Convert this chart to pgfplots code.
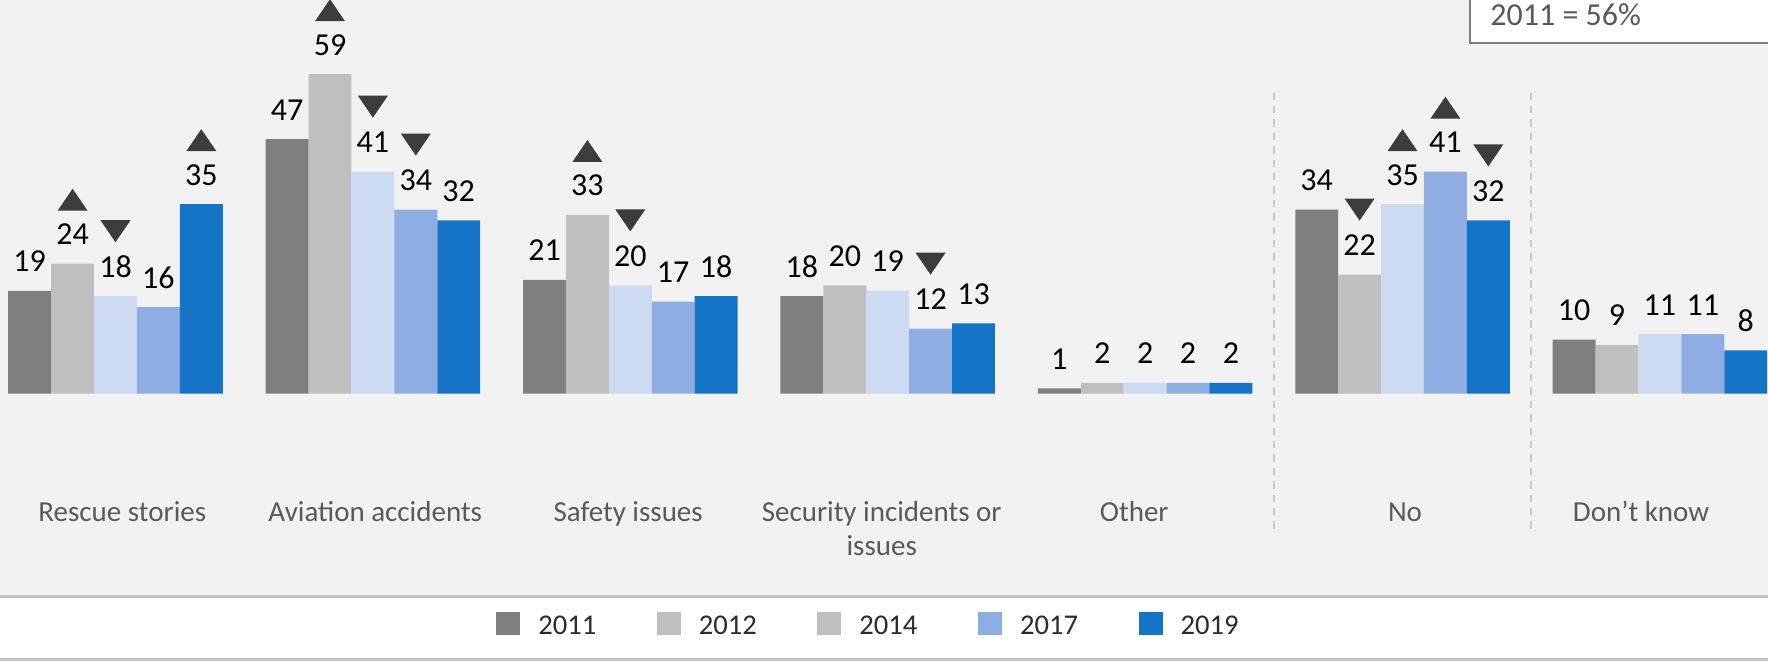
\documentclass[border=0pt]{standalone}
\usepackage{fontspec}
\setmainfont{Carlito}
\usepackage{pgfplots}
\pgfplotsset{compat=1.18}

\definecolor{c11}{HTML}{7F7F7F}
\definecolor{c12}{HTML}{BFBFBF}
\definecolor{c14}{HTML}{CCDAF2}
\definecolor{c17}{HTML}{8EAEE3}
\definecolor{c19}{HTML}{1475C8}
\definecolor{bgc}{HTML}{F2F2F2}
\definecolor{linec}{HTML}{C4C4C4}
\definecolor{sepc}{HTML}{C8C8C8}
\definecolor{txt}{HTML}{595959}
\definecolor{legtxt}{HTML}{2B2B2B}
\definecolor{tri}{HTML}{3C3C3C}

% change markers drawn above the value labels
\pgfdeclareplotmark{tup}{%
  \pgfpathmoveto{\pgfqpoint{-7.5pt}{26.5pt}}%
  \pgfpathlineto{\pgfqpoint{7.5pt}{26.5pt}}%
  \pgfpathlineto{\pgfqpoint{0pt}{37.5pt}}%
  \pgfpathclose\pgfusepathqfill}
\pgfdeclareplotmark{tdn}{%
  \pgfpathmoveto{\pgfqpoint{-7.5pt}{38pt}}%
  \pgfpathlineto{\pgfqpoint{7.5pt}{38pt}}%
  \pgfpathlineto{\pgfqpoint{0pt}{27pt}}%
  \pgfpathclose\pgfusepathqfill}

% one bar series; #1 = bar index from the group centre
\pgfplotsset{
  yr/.style={ybar, bar width=0.16667, bar shift=#1*0.16667, draw=none, forget plot,
    nodes near coords,
    every node near coord/.append style={anchor=base, yshift=9.5pt, xshift=#1*21.45pt,
      inner sep=0pt, font=\fontsize{16}{19}\selectfont, text=black}},
}

\begin{document}
\begin{tikzpicture}
\useasboundingbox (0pt,0pt) rectangle (884pt,330.5pt);
\fill[bgc] (0pt,0pt) rectangle (884pt,330.5pt);
\fill[white] (0pt,1.5pt) rectangle (884pt,32pt);
\draw[linec, line width=1.5pt] (0pt,32.25pt) -- (884pt,32.25pt);
\draw[linec, line width=1.5pt] (0pt,0.75pt) -- (884pt,0.75pt);
\draw[c11, line width=1pt, fill=white] (735pt,345pt) rectangle (895pt,308.85pt);
\node[anchor=base west, inner sep=0pt, font=\fontsize{16}{19}\selectfont, text=txt] at (745pt,318pt) {2011 = 56\%};

\begin{axis}[
  at={(0pt,133.65pt)}, anchor=south west,
  scale only axis, width=884pt, height=196.85pt,
  xmin=-0.4487, xmax=6.42, ymin=0, ymax=72.7,
  clip=false,
  axis line style={draw=none}, tick style={draw=none},
  ytick=\empty,
  xtick={0.0264,1.0093,1.9919,2.9767,3.9577,5.0097,5.9266},
  xticklabels={Rescue stories, Aviation accidents, Safety issues,
    {\begin{tabular}[t]{@{}c@{}}Security incidents or\\issues\end{tabular}},
    Other, No, Don’t know},
  xticklabel style={font=\fontsize{14.5}{16.7}\selectfont, text=txt, anchor=base, yshift=-64pt},
  /pgf/number format/assume math mode=true,
  legend columns=5,
  legend image code/.code={\fill[#1] (0pt,-4.05pt) rectangle (12pt,7.45pt);},
  legend style={at={(axis description cs:0.2805,-0.5863)}, anchor=west,
    draw=none, fill=none, inner sep=0pt,
    font=\fontsize{14.3}{17}\selectfont, text=legtxt,
    nodes={inner sep=0pt},
    /tikz/every odd column/.append style={column sep=9pt},
    /tikz/every even column/.append style={column sep=30.3pt}},
]
\addplot[yr=-2, fill=c11] coordinates {(0,19) (1,47) (2,21) (3,18) (4,1) (5,34) (6,10)};
\addplot[yr=-1, fill=c12] coordinates {(0,24) (1,59) (2,33) (3,20) (4,2) (5,22) (6,9)};
\addplot[yr=0, fill=c14] coordinates {(0,18) (1,41) (2,20) (3,19) (4,2) (5,35) (6,11)};
\addplot[yr=1, fill=c17] coordinates {(0,16) (1,34) (2,17) (3,12) (4,2) (5,41) (6,11)};
\addplot[yr=2, fill=c19] coordinates {(0,35) (1,32) (2,18) (3,13) (4,2) (5,32) (6,8)};

% significant rises / falls
\addplot[only marks, mark=tup, color=tri, forget plot] coordinates {
  (-0.16667,24) (0.33333,35) (0.83333,59) (1.83333,33) (5,35) (5.16667,41)};
\addplot[only marks, mark=tdn, color=tri, forget plot] coordinates {
  (0,18) (1,41) (1.16667,34) (2,20) (3.16667,12) (4.83333,22) (5.33333,32)};

\draw[sepc, line width=1.2pt, dash pattern=on 3.7pt off 3pt] (axis cs:4.5,55.6) -- (axis cs:4.5,-25.2);
\draw[sepc, line width=1.2pt, dash pattern=on 3.7pt off 3pt] (axis cs:5.5,55.6) -- (axis cs:5.5,-25.2);

\addlegendimage{fill=c11, draw=none}\addlegendentry{2011}
\addlegendimage{fill=c12, draw=none}\addlegendentry{2012}
\addlegendimage{fill=c12, draw=none}\addlegendentry{2014}
\addlegendimage{fill=c17, draw=none}\addlegendentry{2017}
\addlegendimage{fill=c19, draw=none}\addlegendentry{2019}
\end{axis}
\end{tikzpicture}
\end{document}
